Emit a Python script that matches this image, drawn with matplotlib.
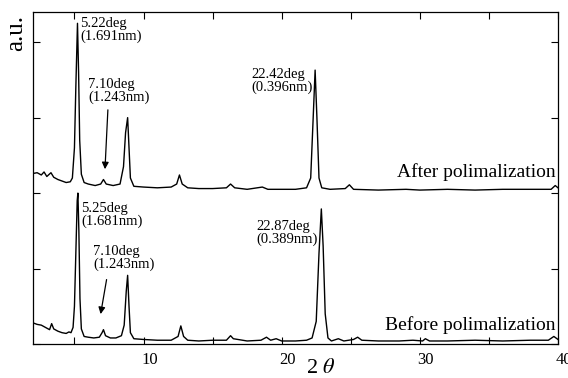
import matplotlib
matplotlib.use("Agg")
import matplotlib.pyplot as plt
import matplotlib.transforms as mtransforms

plt.rcParams['font.family'] = ['Liberation Serif', 'DejaVu Serif']
plt.rcParams['mathtext.fontset'] = 'stix'

# XRD scans (2theta in deg, intensity in arbitrary units, stacked)
before_tt = [2.0, 2.3, 2.6, 2.9, 3.2, 3.35, 3.5, 3.8, 4.1, 4.4, 4.6, 4.75, 4.9, 5.0, 5.1, 5.2, 5.25,
             5.32, 5.4, 5.5, 5.7, 6.0, 6.4, 6.8, 7.0, 7.1, 7.25, 7.6, 8.0, 8.4, 8.6, 8.75, 8.85,
             8.95, 9.05, 9.3, 10.0, 11.0, 12.0, 12.5, 12.7, 12.9, 13.2, 14.0, 15.0, 16.0, 16.3,
             16.5, 17.5, 18.5, 18.9, 19.2, 19.6, 20.0, 21.0, 21.8, 22.2, 22.5, 22.7, 22.87, 23.0,
             23.15, 23.35, 23.6, 24.1, 24.5, 25.2, 25.5, 25.8, 27.0, 28.5, 29.5, 30.2, 30.4, 30.7,
             32.0, 34.0, 36.0, 38.0, 39.3, 39.7, 40.0]
before_i = [0.28, 0.26, 0.25, 0.22, 0.19, 0.27, 0.20, 0.17, 0.15, 0.14, 0.16, 0.15, 0.22, 0.50, 1.20, 1.90, 2.00,
            1.50, 0.60, 0.20, 0.10, 0.09, 0.08, 0.09, 0.15, 0.19, 0.11, 0.08, 0.08, 0.11, 0.25, 0.70, 0.91,
            0.50, 0.15, 0.07, 0.06, 0.05, 0.05, 0.10, 0.24, 0.10, 0.05, 0.04, 0.05, 0.05, 0.11,
            0.07, 0.04, 0.05, 0.09, 0.05, 0.07, 0.04, 0.04, 0.05, 0.08, 0.30, 1.20, 1.79, 1.30,
            0.40, 0.08, 0.04, 0.07, 0.04, 0.06, 0.09, 0.05, 0.04, 0.04, 0.05, 0.04, 0.07, 0.04,
            0.04, 0.05, 0.04, 0.05, 0.05, 0.10, 0.06]

after_tt = [2.0, 2.3, 2.6, 2.8, 3.0, 3.3, 3.5, 3.8, 4.1, 4.4, 4.7, 4.85, 5.0, 5.1, 5.22, 5.3, 5.38,
            5.5, 5.7, 6.0, 6.5, 6.9, 7.1, 7.3, 7.8, 8.3, 8.55, 8.7, 8.85, 8.95, 9.05, 9.3, 10.0,
            11.0, 12.0, 12.4, 12.6, 12.8, 13.2, 14.0, 15.0, 16.0, 16.3, 16.6, 17.5, 18.6, 19.0,
            20.0, 21.0, 21.8, 22.1, 22.28, 22.42, 22.55, 22.7, 22.9, 23.5, 24.6, 24.9, 25.2, 27.0,
            29.0, 30.0, 32.0, 34.0, 36.0, 38.0, 39.5, 39.8, 40.0]
after_i = [2.26, 2.27, 2.24, 2.28, 2.22, 2.27, 2.21, 2.18, 2.16, 2.14, 2.15, 2.20, 2.60, 3.40, 4.25, 3.60, 2.70,
           2.25, 2.14, 2.12, 2.10, 2.12, 2.18, 2.12, 2.10, 2.12, 2.35, 2.80, 3.00, 2.60, 2.20, 2.09, 2.08,
           2.07, 2.08, 2.12, 2.24, 2.12, 2.07, 2.06, 2.06, 2.07, 2.12, 2.07, 2.05, 2.08, 2.05,
           2.05, 2.05, 2.07, 2.20, 3.00, 3.63, 3.00, 2.20, 2.07, 2.05, 2.06, 2.11, 2.05, 2.04,
           2.05, 2.04, 2.05, 2.04, 2.05, 2.05, 2.05, 2.10, 2.07]

# annotations: text, (x, y) of top-left corner
peak_labels = [("5.22deg\n(1.691nm)", 5.43, 4.33),
               ("7.10deg\n(1.243nm)", 6.0, 3.52),
               ("22.42deg\n(0.396nm)", 17.8, 3.66),
               ("5.25deg\n(1.681nm)", 5.5, 1.88),
               ("7.10deg\n(1.243nm)", 6.36, 1.31),
               ("22.87deg\n(0.389nm)", 18.2, 1.64)]
arrows = [((7.43, 3.14), (7.2, 2.28)),
          ((7.36, 0.89), (6.86, 0.36))]
curve_names = [("After polimalization", 39.8, 2.21),
               ("Before polimalization", 39.8, 0.19)]

fig = plt.figure(figsize=(5.68, 3.78), dpi=100)
ax = fig.add_axes([33/568, 34/378, 525/568, 332/378])

ax.plot(before_tt, before_i, color='black', lw=1.0)
ax.plot(after_tt, after_i, color='black', lw=1.0)

for txt, x, y in peak_labels:
    ax.text(x, y, txt, ha='left', va='top', fontsize=10.5, linespacing=0.95)
for (x0, y0), (x1, y1) in arrows:
    ax.annotate('', xy=(x1, y1), xytext=(x0, y0),
                arrowprops=dict(arrowstyle='-|>', color='black', lw=0.9, mutation_scale=10))
for txt, x, y in curve_names:
    ax.text(x, y, txt, ha='right', va='baseline', fontsize=14)

ax.set_xlim(2, 40)
ax.set_ylim(0, 4.4)
ax.set_xticks([5, 10, 15, 20, 25, 30, 35, 40])
ax.set_xticklabels(['', '10', '', '20', '', '30', '', '40'])
ax.set_yticks([0, 1, 2, 3, 4])
ax.set_yticklabels([])
ax.tick_params(direction='in', length=5, width=0.8, top=True, right=True, labelsize=12, pad=6)
off = mtransforms.ScaledTranslation(6/100, 0, fig.dpi_scale_trans)
for lab in ax.get_xticklabels():
    lab.set_transform(lab.get_transform() + off)
for s in ax.spines.values():
    s.set_linewidth(0.9)

fig.text(321/568, 1 - 359/378, r'2 $\theta$', ha='center', va='top', fontsize=16)
fig.text(16/568, 1 - 33/378, 'a.u.', rotation=90, ha='center', va='center', fontsize=18)

fig.savefig('out.png', dpi=100)
